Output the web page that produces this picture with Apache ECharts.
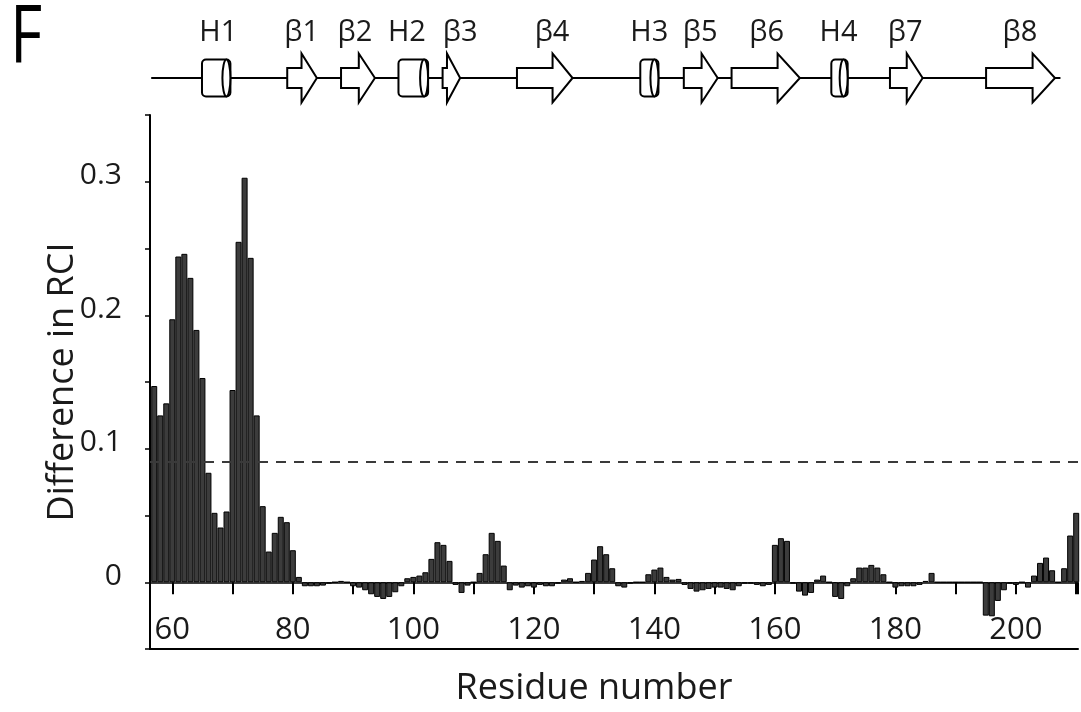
<!DOCTYPE html>
<html>
<head>
<meta charset="utf-8">
<title>Difference in RCI by residue</title>
<script src="https://cdn.jsdelivr.net/npm/echarts@6/dist/echarts.min.js"></script>
<style>
  html, body { margin: 0; padding: 0; background: #fff; }
  #chart { width: 1081px; height: 712px; }
</style>
</head>
<body>
<div id="chart"></div>
<script>
// Residue numbers and the RCI difference for each one
const residues = [];
for (let r = 57; r <= 210; r++) residues.push(r);

const rciDiff = [
  0.147, 0.125, 0.134, 0.197, 0.244, 0.246, 0.228, 0.189, 0.153, 0.082,   // 57-66
  0.052, 0.041, 0.053, 0.144, 0.255, 0.303, 0.243, 0.125, 0.057, 0.023,   // 67-76
  0.037, 0.049, 0.045, 0.024, 0.004, -0.003, -0.003, -0.003, -0.0025, -0.001, // 77-86
  0, 0.001, 0, -0.003, -0.004, -0.006, -0.009, -0.011, -0.0125, -0.011,   // 87-96
  -0.0075, -0.003, 0.003, 0.004, 0.005, 0.0075, 0.0175, 0.030, 0.028, 0.016, // 97-106
  -0.002, -0.008, -0.0025, 0, 0.007, 0.021, 0.037, 0.031, 0.0125, -0.006, // 107-116
  -0.0025, -0.004, -0.003, -0.004, -0.002, -0.003, -0.003, -0.001, 0.002, 0.003, // 117-126
  0, 0.001, 0.007, 0.017, 0.027, 0.021, 0.0105, -0.003, -0.004, -0.001,   // 127-136
  0, 0, 0.006, 0.0095, 0.011, 0.004, 0.002, 0.0025, -0.002, -0.005,       // 137-146
  -0.007, -0.006, -0.005, -0.004, -0.004, -0.005, -0.006, -0.003, -0.001, -0.001, // 147-156
  -0.002, -0.003, -0.002, 0.028, 0.033, 0.031, -0.001, -0.007, -0.010, -0.008, // 157-166
  0.002, 0.005, 0, -0.011, -0.0125, -0.003, 0.003, 0.011, 0.011, 0.013,   // 167-176
  0.011, 0.006, 0, -0.004, -0.003, -0.003, -0.003, -0.002, 0.001, 0.007,  // 177-186
  0, 0, 0, 0, 0, 0, 0, 0, -0.025, -0.0255,                                // 187-196
  -0.014, -0.006, -0.001, -0.002, 0, -0.004, 0.005, 0.0145, 0.0185, 0.009, // 197-206
  0, 0.0105, 0.035, 0.052                                                 // 207-210
];

// Significance threshold drawn as a dashed line
const threshold = 0.086;

// Labelled values on the RCI axis
const yTickLabels = [0, 0.1, 0.2, 0.3];

// Secondary structure elements (residue ranges) shown above the plot
const ssNames  = ['H1', 'β1', 'β2', 'H2', 'β3', 'β4', 'H3', 'β5', 'β6', 'H4', 'β7', 'β8'];
const ssKinds  = ['helix', 'strand', 'strand', 'helix', 'strand', 'strand', 'helix', 'strand', 'strand', 'helix', 'strand', 'strand'];
const ssStart  = [64.9, 79.0, 87.9, 97.4, 104.7, 117.0, 137.4, 144.6, 152.5, 169.0, 178.7, 194.6];
const ssEnd    = [69.6, 83.9, 93.5, 102.3, 107.6, 126.2, 140.4, 150.2, 163.8, 171.7, 184.1, 206.0];
const ssLabelAt = [67.6, 81.4, 90.2, 98.8, 107.6, 122.8, 138.9, 147.3, 158.3, 170.2, 181.2, 200.2];
const backbone = [56.5, 206.9];

const X_MIN = 56.3, X_MAX = 210.3;
const FONT = '"Open Sans", "Noto Sans", sans-serif';

const chart = echarts.init(document.getElementById('chart'), null, { renderer: 'canvas' });

function renderElement(params, api) {
  const i = params.dataIndex;
  const s = api.value(0), e = api.value(1), labAt = api.value(3);
  const kind = ssKinds[i];
  const p0 = api.coord([s, 0]);
  const p1 = api.coord([e, 0]);
  const unit = api.size([0, 1])[1];
  const cy = p0[1];
  const x0 = p0[0], x1 = p1[0];
  const children = [];
  const outline = { fill: '#fff', stroke: '#000', lineWidth: 2 };
  if (kind === 'strand') {
    const h = 0.4 * unit, H = 0.98 * unit;
    const len = x1 - x0;
    const xh = x1 - (10 + 0.18 * len);
    children.push({
      type: 'polygon',
      shape: { points: [[x0, cy - h], [xh, cy - h], [xh, cy - H], [x1, cy], [xh, cy + H], [xh, cy + h], [x0, cy + h]] },
      style: outline
    });
  } else {
    const hh = 0.74 * unit;
    children.push({
      type: 'rect',
      shape: { x: x0, y: cy - hh, width: x1 - x0, height: 2 * hh, r: 4 },
      style: outline
    });
    children.push({
      type: 'ellipse',
      shape: { cx: x1 - 4, cy: cy, rx: 4, ry: hh },
      style: outline
    });
  }
  const lp = api.coord([labAt, 1.8]);
  children.push({
    type: 'text',
    style: {
      text: ssNames[i], x: lp[0], y: lp[1],
      align: 'center', verticalAlign: 'middle',
      font: '29px ' + FONT, fill: '#1a1a1a'
    }
  });
  return { type: 'group', children: children };
}

const option = {
  animation: false,
  backgroundColor: '#fff',
  graphic: [
    {
      // panel letter
      type: 'text', left: 10, top: 0, scaleX: 0.78,
      style: { text: 'F', font: '80px ' + FONT, fill: '#000' }
    }
  ],
  grid: [
    { left: 150, right: 0, top: 115, bottom: 63 },
    { left: 150, right: 0, top: 53, height: 50 }
  ],
  xAxis: [
    {
      // zero line with residue ticks
      gridIndex: 0, type: 'value', min: X_MIN, max: X_MAX,
      minInterval: 10, maxInterval: 10,
      position: 'bottom',
      axisLine: { show: true, onZero: true, lineStyle: { color: '#000', width: 1.5 } },
      axisTick: { show: true, length: 12, lineStyle: { color: '#000', width: 2 } },
      axisLabel: { show: false },
      splitLine: { show: false }
    },
    {
      // bottom frame line with residue labels and the axis title
      gridIndex: 0, type: 'value', min: X_MIN, max: X_MAX,
      minInterval: 10, maxInterval: 10,
      position: 'bottom',
      axisLine: { show: true, onZero: false, lineStyle: { color: '#000', width: 2 } },
      axisTick: { show: false },
      axisLabel: {
        inside: true, margin: 3, fontSize: 31, fontFamily: FONT, color: '#1a1a1a',
        formatter: v => (Math.abs(v % 20) < 1e-6 ? String(Math.round(v)) : '')
      },
      splitLine: { show: false },
      name: 'Residue number', nameLocation: 'middle', nameGap: 22, nameMoveOverlap: false,
      nameTextStyle: { fontSize: 36, fontFamily: FONT, color: '#1a1a1a', padding: [0, 40, 0, 0] }
    },
    {
      gridIndex: 1, type: 'value', min: X_MIN, max: X_MAX, show: false
    }
  ],
  yAxis: [
    {
      gridIndex: 0, type: 'value', min: -0.05, max: 0.35, interval: 0.05,
      axisLine: { show: true, onZero: false, lineStyle: { color: '#000', width: 2 } },
      axisTick: { show: true, length: 5, lineStyle: { color: '#000', width: 1.5 } },
      axisLabel: {
        margin: 28, fontSize: 30, lineHeight: 12, fontFamily: FONT, color: '#1a1a1a',
        formatter: v => {
          const r = Math.round(v * 100) / 100;
          if (!yTickLabels.some(t => Math.abs(t - r) < 1e-9)) return '';
          return (r === 0 ? '0' : r.toFixed(1)) + '\n';
        }
      },
      splitLine: { show: false },
      name: 'Difference in RCI', nameLocation: 'middle', nameGap: 69, nameMoveOverlap: false,
      nameTextStyle: { fontSize: 36, fontFamily: FONT, color: '#1a1a1a' }
    },
    { gridIndex: 1, type: 'value', min: -1, max: 1, show: false }
  ],
  series: [
    {
      type: 'bar',
      xAxisIndex: 0, yAxisIndex: 0,
      data: residues.map((r, i) => [r, rciDiff[i]]),
      barWidth: 6,
      itemStyle: { color: '#3c3c3c', borderColor: '#000', borderWidth: 1 },
      markLine: {
        silent: true, symbol: 'none',
        label: { show: false },
        lineStyle: { color: '#3a3a3a', width: 2, type: [10, 8] },
        data: [{ yAxis: threshold }]
      }
    },
    {
      type: 'line',
      xAxisIndex: 2, yAxisIndex: 1,
      data: [[backbone[0], 0], [backbone[1], 0]],
      showSymbol: false, symbol: 'none',
      lineStyle: { color: '#000', width: 2 },
      z: 1
    },
    {
      type: 'custom',
      xAxisIndex: 2, yAxisIndex: 1,
      data: ssStart.map((s, i) => [s, ssEnd[i], ssKinds[i] === 'helix' ? 1 : 0, ssLabelAt[i]]),
      renderItem: renderElement,
      z: 3
    }
  ]
};

chart.setOption(option);
</script>
</body>
</html>
